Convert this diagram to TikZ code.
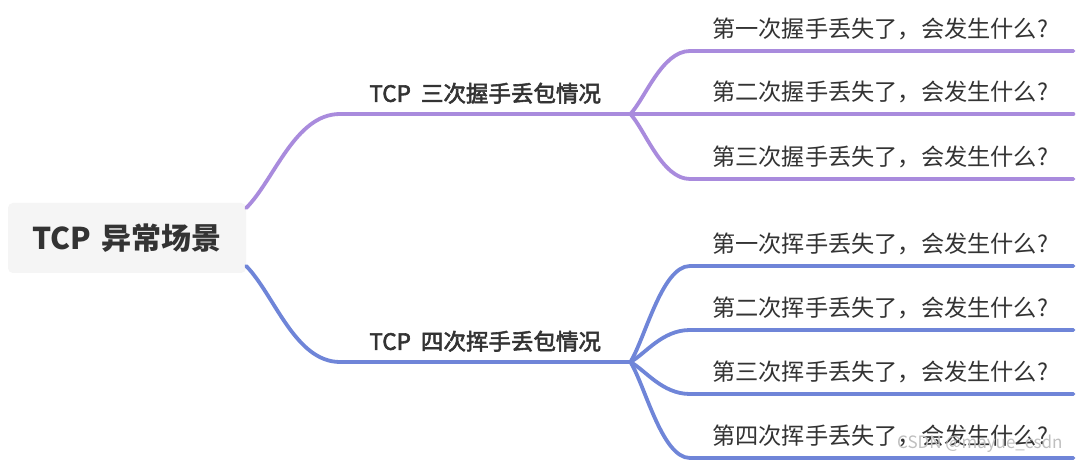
\documentclass[tikz,border=0pt]{standalone}
\usepackage{fontspec}
\setmainfont{Noto Sans CJK SC}
\newfontfamily\medfont[FakeBold=2.5]{Noto Sans CJK SC}
\usetikzlibrary{calc}
\definecolor{hscol}{HTML}{A98BDD}
\definecolor{hwcol}{HTML}{6F85D8}
\definecolor{txtcol}{HTML}{333333}
\begin{document}
\begin{tikzpicture}[x=1pt, y=-1pt]
			\tikzset{
				rootbox/.style={fill=black!4, rounded corners=5pt, minimum width=238pt,
						minimum height=70pt, text=txtcol, font=\fontsize{30}{34}\selectfont\bfseries},
				branchlabel/.style={anchor=south west, minimum width=290pt, inner xsep=0pt,
						inner ysep=0pt, text height=16pt, text depth=12pt, text=txtcol,
						font=\fontsize{22.5}{26}\medfont},
				leaflabel/.style={anchor=south west, text width=339pt, inner xsep=22pt, align=left,
						inner ysep=0pt, text height=17pt, text depth=13pt, text=txtcol,
						font=\fontsize{23.2}{26}\selectfont},
				wire/.style={line width=3.8pt, line cap=round},
			}
			\useasboundingbox[fill=white] (0,0) rectangle (1080,462);
			% root
			\node[rootbox] (root) at (127,238) {TCP\hspace{0.35em}异常场景};
			% three-way handshake
			\node[branchlabel] (hs) at (340,114) {TCP\hspace{0.45em}三次握手丢包情况};
			\coordinate (hsroot) at ([yshift=30pt]root.east);
			\draw[wire, hscol] (hsroot) .. controls ($(hsroot)!0.3!(hs.south west)$) and +(-45,0) ..
			(hs.south west) -- (hs.south east);
			\foreach \i/\n/\y in {1/一/51, 2/二/114, 3/三/179}{
					\node[leaflabel] (hs\i) at (690,\y) {第\n 次握手丢失了，会发生什么?};
					\draw[wire, hscol] (hs.south east) .. controls ($(hs.south east)!0.25!(hs\i.south west)$)
					and +(-28,0) .. (hs\i.south west) -- (hs\i.south east);
				}
			% four-way wave
			\node[branchlabel] (hw) at (340,362) {TCP\hspace{0.45em}四次挥手丢包情况};
			\coordinate (hwroot) at ([yshift=-28pt]root.east);
			\draw[wire, hwcol] (hwroot) .. controls ($(hwroot)!0.3!(hw.south west)$) and +(-45,0) ..
			(hw.south west) -- (hw.south east);
			\foreach \i/\n/\y in {1/一/266, 2/二/330, 3/三/394, 4/四/458}{
					\node[leaflabel] (hw\i) at (690,\y) {第\n 次挥手丢失了，会发生什么?};
					\draw[wire, hwcol] (hw.south east) .. controls ($(hw.south east)!0.25!(hw\i.south west)$)
					and +(-28,0) .. (hw\i.south west) -- (hw\i.south east);
				}
			\node[text=black!25, font=\fontsize{17}{20}\selectfont, anchor=east] (mark) at (1066,444) {CSDN @mayue\_csdn};
		\end{tikzpicture}
\end{document}
